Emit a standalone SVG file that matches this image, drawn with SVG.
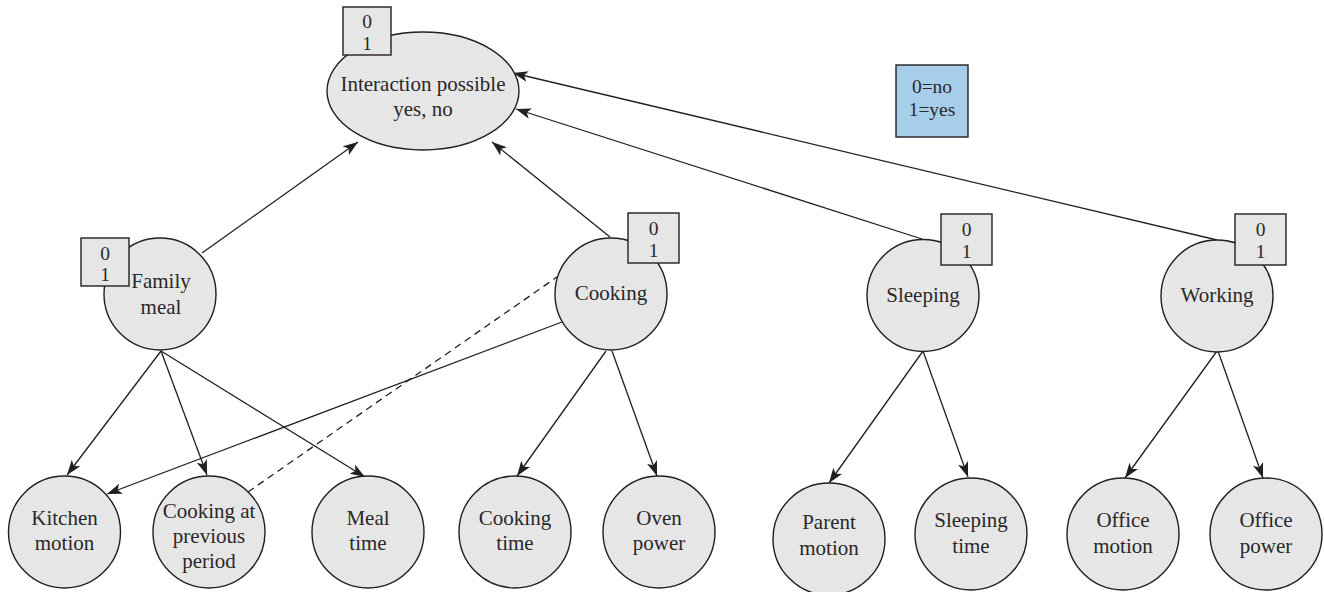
<svg xmlns="http://www.w3.org/2000/svg" width="1324" height="592" viewBox="0 0 1324 592">
<style>
.n{fill:#e6e6e6;stroke:#231f20;stroke-width:1.4}
.b{fill:#e6e6e6;stroke:#231f20;stroke-width:1.4}
.lg{fill:#a6cdea;stroke:#231f20;stroke-width:1.4}
text{font-family:"Liberation Serif","DejaVu Serif",serif;font-size:21px;fill:#2b2829;text-anchor:middle}
.d{font-size:19.5px}
.e{stroke:#231f20;stroke-width:1.3;fill:none}
.a{marker-end:url(#ah)}
.dash{stroke-dasharray:7,5}
</style>
<defs>
<marker id="ah" viewBox="0 0 14 10" refX="14" refY="5" markerWidth="15" markerHeight="11" markerUnits="userSpaceOnUse" orient="auto">
<path d="M0,0 L14,5 L0,10 L3.5,5 z" fill="#231f20"/>
</marker>
</defs>
<g id="connectors">
<line class="e a" x1="202" y1="253" x2="358" y2="142"/>
<line class="e a" x1="610" y1="237" x2="492" y2="142"/>
<line class="e a" x1="922" y1="239" x2="516" y2="109"/>
<line class="e a" x1="1217" y1="240" x2="513" y2="73"/>
<line class="e a" x1="161" y1="351" x2="67" y2="475"/>
<line class="e a" x1="161" y1="351" x2="207" y2="475"/>
<line class="e a" x1="161" y1="351" x2="365" y2="477"/>
<line class="e a" x1="562" y1="322" x2="107" y2="494"/>
<line class="e dash" x1="248" y1="492" x2="557" y2="277"/>
<line class="e a" x1="606" y1="351" x2="517" y2="476"/>
<line class="e a" x1="612" y1="351" x2="657" y2="476"/>
<line class="e a" x1="923" y1="351" x2="829" y2="483"/>
<line class="e a" x1="923" y1="351" x2="968" y2="477"/>
<line class="e a" x1="1217" y1="351" x2="1125" y2="478"/>
<line class="e a" x1="1218" y1="351" x2="1263" y2="478"/>
</g>
<g id="interaction">
<ellipse class="n" cx="423" cy="91" rx="96" ry="59"/>
<text x="423" y="91">Interaction possible</text>
<text x="423" y="116">yes, no</text>
<rect class="b" x="343" y="7" width="48" height="48"/>
<text class="d" x="367" y="28">0</text>
<text class="d" x="367" y="50">1</text>
</g>
<g id="legend">
<rect class="lg" x="896" y="65" width="72" height="72"/>
<text class="d" x="932" y="93">0=no</text>
<text class="d" x="932" y="116">1=yes</text>
</g>
<g id="family-meal">
<circle class="n" cx="160" cy="294" r="56"/>
<text x="161" y="288">Family</text>
<text x="161" y="314">meal</text>
<rect class="b" x="81" y="238" width="48" height="48"/>
<text class="d" x="105" y="260">0</text>
<text class="d" x="105" y="281">1</text>
</g>
<g id="cooking">
<circle class="n" cx="611" cy="294" r="56"/>
<text x="611" y="300">Cooking</text>
<rect class="b" x="628" y="213" width="51" height="50"/>
<text class="d" x="653.5" y="235">0</text>
<text class="d" x="653.5" y="257">1</text>
</g>
<g id="sleeping">
<circle class="n" cx="923" cy="295.5" r="56"/>
<text x="923" y="302">Sleeping</text>
<rect class="b" x="941" y="214" width="51" height="51"/>
<text class="d" x="966.5" y="236">0</text>
<text class="d" x="966.5" y="258">1</text>
</g>
<g id="working">
<circle class="n" cx="1217" cy="296" r="56"/>
<text x="1217" y="302">Working</text>
<rect class="b" x="1235" y="214" width="51" height="51"/>
<text class="d" x="1260.5" y="236">0</text>
<text class="d" x="1260.5" y="258">1</text>
</g>
<g id="kitchen-motion">
<circle class="n" cx="64.5" cy="532" r="56"/>
<text x="64.5" y="525">Kitchen</text>
<text x="64.5" y="550">motion</text>
</g>
<g id="cooking-prev">
<circle class="n" cx="209" cy="532" r="56"/>
<text x="209" y="518">Cooking at</text>
<text x="209" y="543">previous</text>
<text x="209" y="568">period</text>
</g>
<g id="meal-time">
<circle class="n" cx="368" cy="532" r="56"/>
<text x="368" y="525">Meal</text>
<text x="368" y="550">time</text>
</g>
<g id="cooking-time">
<circle class="n" cx="515" cy="532" r="56"/>
<text x="515" y="525">Cooking</text>
<text x="515" y="550">time</text>
</g>
<g id="oven-power">
<circle class="n" cx="659" cy="532" r="56"/>
<text x="659" y="525">Oven</text>
<text x="659" y="550">power</text>
</g>
<g id="parent-motion">
<circle class="n" cx="829" cy="539" r="56"/>
<text x="829" y="529">Parent</text>
<text x="829" y="555">motion</text>
</g>
<g id="sleeping-time">
<circle class="n" cx="971" cy="534" r="56"/>
<text x="971" y="527">Sleeping</text>
<text x="971" y="553">time</text>
</g>
<g id="office-motion">
<circle class="n" cx="1123" cy="534" r="56"/>
<text x="1123" y="527">Office</text>
<text x="1123" y="553">motion</text>
</g>
<g id="office-power">
<circle class="n" cx="1266" cy="534" r="56"/>
<text x="1266" y="527">Office</text>
<text x="1266" y="553">power</text>
</g>
</svg>
